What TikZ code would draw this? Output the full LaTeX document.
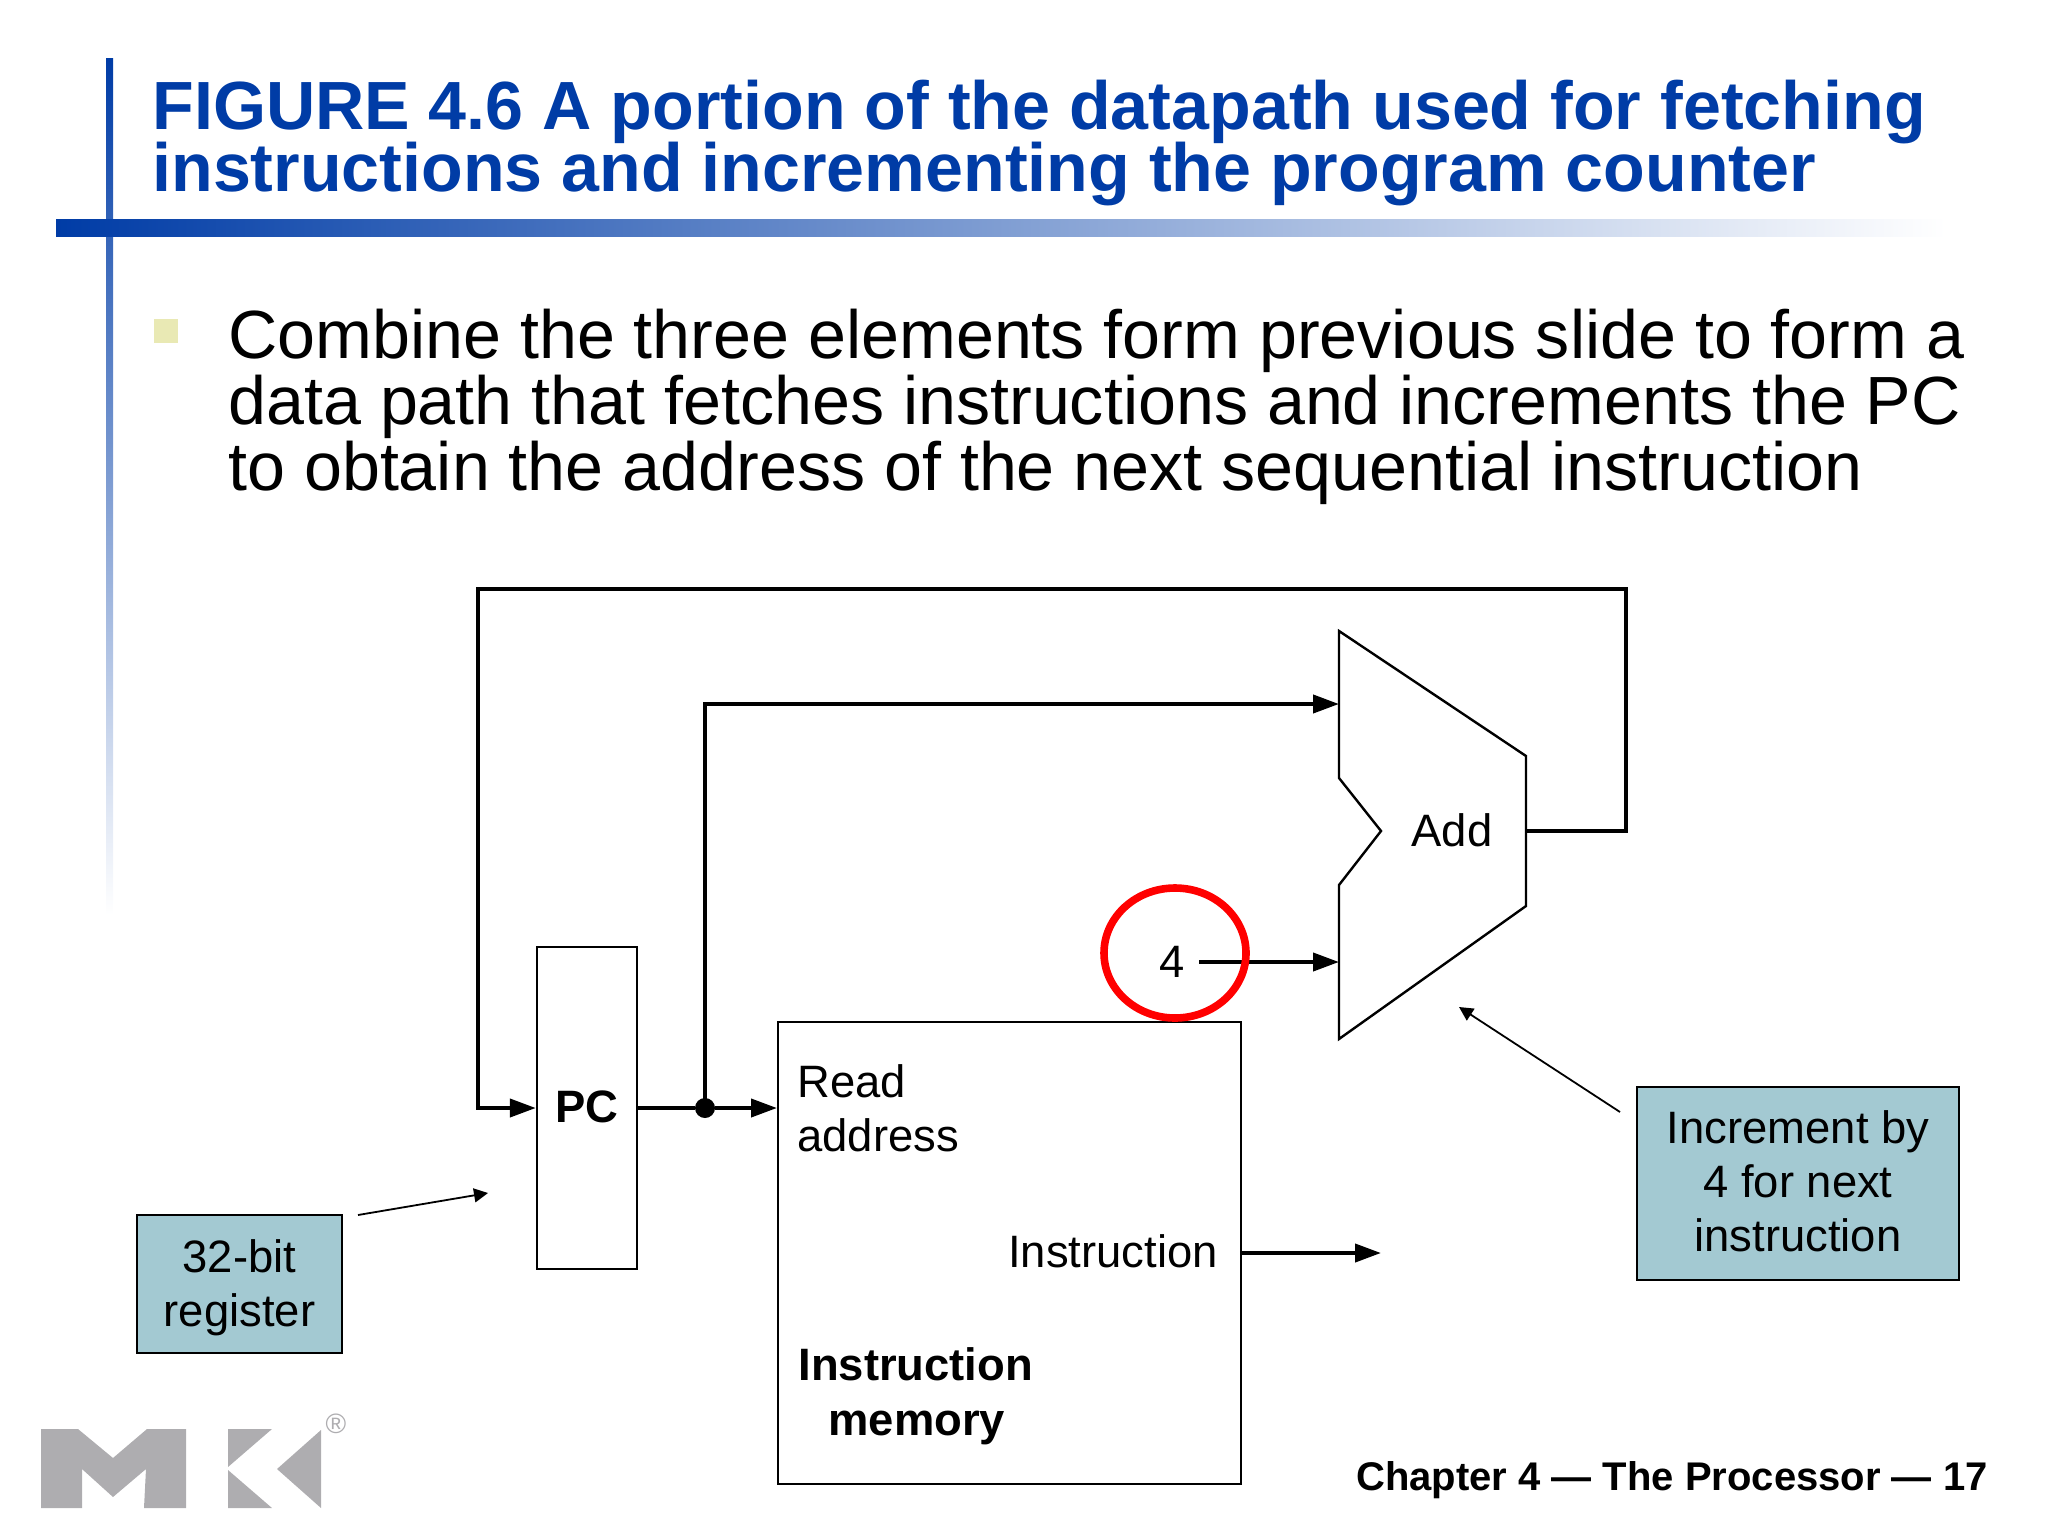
\documentclass[tikz,border=0pt]{standalone}
\usepackage{fontspec}
\setmainfont{Liberation Sans}
\usetikzlibrary{arrows.meta, positioning, shapes.geometric}
\definecolor{slideblue}{HTML}{003CA6}
\definecolor{notefill}{HTML}{A3C9D2}
\definecolor{bulletcol}{HTML}{E9E9B4}
\definecolor{logogray}{HTML}{AEADB0}

\begin{document}
\begin{tikzpicture}[
  x=0.5pt, y=-0.5pt,
  lbl/.style={inner sep=0pt, align=left, font=\fontsize{22.7}{27}\selectfont},
  box/.style={draw, line width=1.2pt, inner sep=0pt},
  note/.style={draw, line width=0.9pt, fill=notefill, inner sep=0pt, align=center,
              font=\fontsize{22.7}{27}\selectfont},
  wire/.style={line width=2pt, -{Triangle[length=13pt, width=9pt]}},
  hint/.style={line width=0.9pt, -{Triangle[length=7pt, width=7pt]}},
  logo/.style={fill=logogray}]
\useasboundingbox (0,0) rectangle (2048,1536);
% slide frame
\shade[top color=slideblue, bottom color=white] (106,59) rectangle (113,915);
\shade[left color=slideblue, right color=white] (56,219) rectangle (1946,236);
\node[inner sep=0pt, align=left, anchor=north west, text=slideblue,
      font=\bfseries\fontsize{34.1}{30.5}\selectfont] (title) at (152,80)
  {FIGURE 4.6 A portion of the datapath used for fetching\\[-2pt]instructions and incrementing the program counter};
\fill[bulletcol] (154,319) rectangle (178,343);
\node[inner sep=0pt, align=left, anchor=north west,
      font=\fontsize{34.1}{33}\selectfont] (body) at (228,309)
  {Combine the three elements form previous slide to form a\\data path that fetches instructions and increments the PC\\to obtain the address of the next sequential instruction};
% datapath
\node[box, minimum width=50pt, minimum height=161pt] (pc) at (587,1108) {};
\node[lbl, font=\bfseries\fontsize{22.7}{26}\selectfont] (pclbl) at (587,1107) {PC};
\node[box, minimum width=231.5pt, minimum height=231pt, anchor=north west] (mem) at (777,1021) {};
\node[lbl, anchor=north west] (readaddr) at (797,1064) {Read\\address};
\node[lbl, anchor=base east] (instr) at (1218,1267) {Instruction};
\node[lbl, anchor=north west, font=\bfseries\fontsize{22.7}{27.5}\selectfont] (memlbl) at (798,1347)
  {Instruction\\\hspace*{15pt}memory};
\draw[line width=1.2pt] (1339,631) -- (1526,756) -- (1526,906) -- (1339,1039) -- (1339,885)
  -- (1381,831) -- (1339,778) -- cycle;
\node[lbl] (add) at (1452,830) {Add};
\coordinate (addA) at (1339,704);
\coordinate (addB) at (1339,962);
\coordinate (addout) at (1526,831);
\coordinate (looptr) at (1626,589);
\coordinate (looptl) at (478,589);
\coordinate (memin) at (777,1108);
\coordinate (memout) at (1381,1253);
\node[lbl, anchor=center] (four) at (1172,962) {4};
\node[circle, fill, inner sep=0pt, minimum size=10pt] (jn) at (705,1108) {};
\draw[wire] (addout) -- (1626,831) -- (looptr) -- (looptl) -- (478,1108) -- (pc.west);
\draw[wire] (jn.center) -- (705,704) -- (addA);
\draw[line width=2pt] (pc.east) -- (jn);
\draw[wire] (jn) -- (memin);
\draw[wire] (four.east) ++(14,0) -- (addB);
\draw[wire] (mem.east |- memout) -- (memout);
\node[ellipse, draw=red, line width=3.8pt, inner sep=0pt, minimum width=71pt, minimum height=65pt] (ring) at (1175,953) {};
% notes
\node[note, minimum width=102.5pt, minimum height=69pt] (regnote) at (239.5,1284) {\rule{0pt}{20.5pt}32-bit\\register};
\node[note, minimum width=161pt, minimum height=96.5pt] (incnote) at (1798,1183.5) {Increment by\\4 for next\\instruction\rule[-2pt]{0pt}{2pt}};
\coordinate (reghint) at (488,1193);
\coordinate (inchint) at (1459,1007);
\draw[hint] (358,1215) -- (reghint);
\draw[hint] (1620,1112) -- (inchint);
% footer and logo
\node[inner sep=0pt, anchor=base east, font=\bfseries\fontsize{20}{24}\selectfont] (chapter) at (1988,1490)
  {Chapter 4 — The Processor — 17};
\fill[logo] (41,1429) -- (78,1429) -- (113,1458) -- (147,1429) -- (186,1429) -- (186,1508) -- (144,1508)
  -- (146,1469) -- (113,1497) -- (82,1469) -- (82,1508) -- (41,1508) -- cycle;
\fill[logo] (228,1429) -- (272,1429) -- (228,1467) -- cycle;
\fill[logo] (228,1470) -- (272,1508) -- (228,1508) -- cycle;
\fill[logo] (321,1430) -- (277,1469) -- (321,1508) -- cycle;
\node[inner sep=0pt, text=logogray, font=\fontsize{14}{14}\selectfont] (regmark) at (336,1424) {®};
\end{tikzpicture}
\end{document}
